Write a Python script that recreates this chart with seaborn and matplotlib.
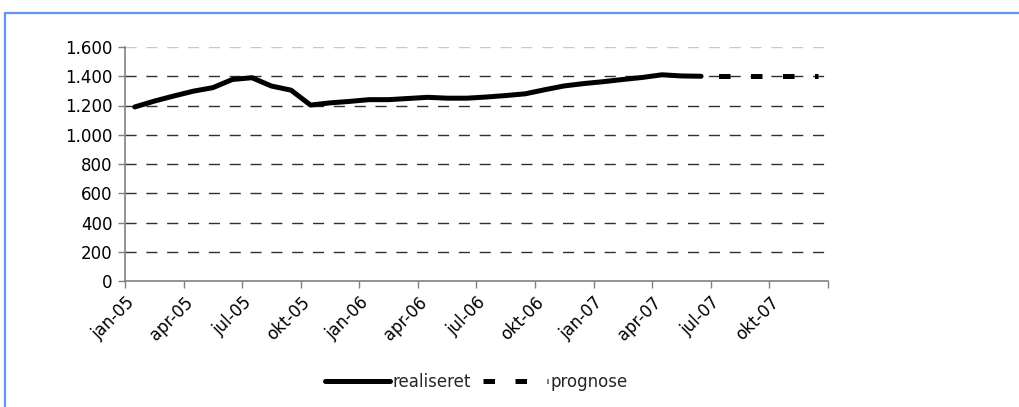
import matplotlib
matplotlib.use("Agg")
import matplotlib.pyplot as plt
from matplotlib.lines import Line2D
import seaborn as sns
import pandas as pd
import numpy as np

# ---- data ----
tick_labels = ["jan-05", "apr-05", "jul-05", "okt-05", "jan-06", "apr-06", "jul-06",
               "okt-06", "jan-07", "apr-07", "jul-07", "okt-07", ""]
realiseret = [1190, 1230, 1265, 1298, 1322, 1378, 1390, 1333, 1305, 1203,
              1218, 1228, 1240, 1240, 1248, 1256, 1250, 1250, 1258, 1268,
              1280, 1308, 1334, 1350, 1363, 1378, 1392, 1410, 1402, 1400]
prognose = [1400, 1400, 1400, 1400, 1400, 1400, 1400]
prognose_start = 29  # month index (jun-07) where prognose begins
y_ticks = [0, 200, 400, 600, 800, 1000, 1200, 1400, 1600]
y_labels = ["0", "200", "400", "600", "800", "1.000", "1.200", "1.400", "1.600"]

df_r = pd.DataFrame({"x": np.arange(len(realiseret)) + 0.5, "y": realiseret})
df_p = pd.DataFrame({"x": np.arange(prognose_start, prognose_start + len(prognose)) + 0.5,
                     "y": prognose})

sns.set_theme(style="white")
plt.rcParams["font.family"] = ["DejaVu Sans"]
fs = 12

fig = plt.figure(figsize=(10.19, 4.07), dpi=100)
ax = fig.add_axes([125 / 1019, 1 - 281 / 407, (828 - 125) / 1019, (281 - 47) / 407])

lw = 3.6
sns.lineplot(data=df_r, x="x", y="y", ax=ax, color="black", linewidth=lw,
             solid_capstyle="round", solid_joinstyle="round", legend=False)
sns.lineplot(data=df_p, x="x", y="y", ax=ax, color="black", linewidth=lw,
             linestyle=(2.9, (2.3, 4.1)), dash_capstyle="butt", legend=False)

ax.set_xlim(0, 36)
ax.set_ylim(0, 1600)
ax.set_xticks(np.arange(0, 37, 3))
ax.set_xticklabels(tick_labels, rotation=45, ha="right", rotation_mode="anchor", fontsize=fs)
ax.set_yticks(y_ticks)
ax.set_yticklabels(y_labels, fontsize=fs)
ax.set_xlabel("")
ax.set_ylabel("")

for v in y_ticks[1:]:
    col = "#c8c8c8" if v == 1600 else "#303030"
    ax.axhline(v, color=col, linewidth=1, linestyle=(0, (8, 7)), zorder=0)

for s in ["top", "right"]:
    ax.spines[s].set_visible(False)
for s in ["left", "bottom"]:
    ax.spines[s].set_color("#808080")
    ax.spines[s].set_linewidth(1.2)
ax.tick_params(axis="both", which="both", direction="out", length=5, width=1,
               color="#808080", left=True, bottom=True, pad=4, labelcolor="black")

handles = [Line2D([], [], color="black", linewidth=lw, solid_capstyle="round"),
           Line2D([], [], color="black", linewidth=lw, linestyle=(0, (2.3, 4.1)),
                  dash_capstyle="butt")]
leg = ax.legend(handles, ["realiseret", "prognose"], loc="center",
                bbox_to_anchor=(0.5, 1 - 382 / 407), bbox_transform=fig.transFigure,
                ncol=2, frameon=False, fontsize=fs, handlelength=3.9, handletextpad=0.15,
                columnspacing=0.7)
# center on axes horizontally
leg.set_bbox_to_anchor((((125 + 828) / 2) / 1019, 1 - 382 / 407), transform=fig.transFigure)

# blue frame (top and left edges)
fig.add_artist(Line2D([4.5 / 1019, 1.0], [1 - 13 / 407, 1 - 13 / 407], transform=fig.transFigure,
                      color="#6495ED", linewidth=1.6))
fig.add_artist(Line2D([4.5 / 1019, 4.5 / 1019], [0, 1 - 13 / 407], transform=fig.transFigure,
                      color="#6495ED", linewidth=1.6))

fig.savefig("out.png", dpi=100, facecolor="white")
